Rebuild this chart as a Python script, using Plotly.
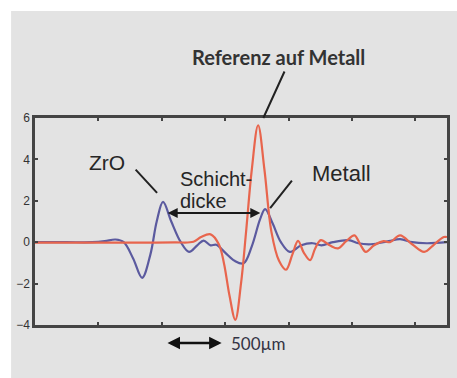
import plotly.graph_objects as go

# Sample positions (axis units, ticks every 1) and signal amplitudes
x_zro = [0.0, 0.5, 0.9, 1.1, 1.27, 1.4, 1.55, 1.69, 1.82, 1.92, 2.02, 2.15, 2.3, 2.43,
         2.56, 2.66, 2.77, 2.86, 3.0, 3.15, 3.29, 3.42, 3.55, 3.63, 3.75, 3.88,
         4.02, 4.2, 4.38, 4.52, 4.7, 4.95, 5.1, 5.3, 5.58, 5.76, 5.95, 6.18, 6.5]
y_zro = [0.0, 0.0, 0.0, 0.05, 0.13, 0.0, -0.8, -1.72, -0.6, 1.0, 1.95, 1.0, 0.0, -0.47,
         -0.15, 0.08, -0.15, -0.12, -0.5, -0.9, -1.02, -0.2, 1.1, 1.6, 0.9, 0.0,
         -0.47, -0.15, -0.05, -0.15, 0.0, 0.1, -0.05, -0.1, 0.05, 0.15, 0.0, -0.05, 0.0]

x_ref = [0.0, 0.8, 1.6, 2.2, 2.5, 2.62, 2.77, 2.9, 2.98, 3.07, 3.16, 3.25, 3.33, 3.42,
         3.52, 3.62, 3.73, 3.85, 3.96, 4.06, 4.15, 4.24, 4.34, 4.42, 4.51, 4.65, 4.78,
         4.91, 5.04, 5.13, 5.22, 5.35, 5.5, 5.6, 5.76, 5.95, 6.14, 6.3, 6.45, 6.5]
y_ref = [-0.02, -0.02, -0.02, -0.01, 0.02, 0.25, 0.38, -0.1, -1.0, -2.6, -3.75, -2.0,
         0.5, 3.5, 5.65, 3.5, 0.5, -0.9, -1.33, -0.6, 0.06, -0.5, -0.87, -0.3, 0.1,
         -0.15, -0.3, 0.05, 0.33, -0.1, -0.47, -0.15, 0.05, 0.0, 0.33, -0.1, -0.47,
         -0.1, 0.25, 0.25]

y_ticks = [-4, -2, 0, 2, 4, 6]
x_ticks = [1, 2, 3, 4, 5, 6]

# Layer thickness marker (between the two echoes) and 500 µm scale bar
thick_start, thick_end, thick_level = 2.07, 3.555, 1.41
scale_start, scale_end = 2.067, 2.944

fig = go.Figure()
fig.add_trace(go.Scatter(x=x_zro, y=y_zro, mode="lines",
                         line=dict(color="#5b5a9f", width=2.2, shape="spline", smoothing=1.0),
                         showlegend=False))
fig.add_trace(go.Scatter(x=x_ref, y=y_ref, mode="lines",
                         line=dict(color="#e8654d", width=2.2, shape="spline", smoothing=1.0),
                         showlegend=False))

axis_common = dict(showgrid=False, zeroline=False, showline=True, linewidth=2.5,
                   linecolor="#444444", mirror="ticks", ticks="inside", ticklen=3,
                   tickwidth=2, tickcolor="#444444")
fig.update_xaxes(range=[0, 6.5], tickvals=x_ticks, showticklabels=False, **axis_common)
fig.update_yaxes(range=[-4, 6], tickvals=y_ticks,
                 tickfont=dict(family="Liberation Sans, Arial", size=12, color="#333333"),
                 **axis_common)

ann_font = dict(family="Liberation Sans, Arial", size=20, color="#262626")
annotations = [
    dict(text="ZrO", x=1.143, y=3.87, xref="x", yref="y", showarrow=False,
         font=dict(ann_font, size=21), xanchor="center", yanchor="middle"),
    dict(text="", x=1.926, y=2.38, ax=1.566, ay=3.58, xref="x", yref="y",
         axref="x", ayref="y", showarrow=True, arrowhead=0, arrowwidth=2, arrowcolor="#222"),
    dict(text="Schicht-", x=2.27, y=3.07, xref="x", yref="y", showarrow=False,
         font=ann_font, xanchor="left", yanchor="middle", borderpad=0),
    dict(text="dicke", x=2.27, y=2.0, xref="x", yref="y", showarrow=False,
         font=ann_font, xanchor="left", yanchor="middle", borderpad=0),
    dict(text="", x=thick_end, y=thick_level, ax=thick_start, ay=thick_level,
         xref="x", yref="y", axref="x", ayref="y", showarrow=True, arrowhead=2,
         arrowside="end+start", arrowsize=1, arrowwidth=2, arrowcolor="#1a1a1a"),
    dict(text="Metall", x=4.84, y=3.34, xref="x", yref="y", showarrow=False,
         font=dict(ann_font, size=22), xanchor="center", yanchor="middle"),
    dict(text="", x=3.71, y=1.65, ax=4.072, ay=3.05, xref="x", yref="y",
         axref="x", ayref="y", showarrow=True, arrowhead=0, arrowwidth=2, arrowcolor="#222"),
    dict(text="Referenz auf Metall", x=3.84, y=1.295, xref="x", yref="y domain",
         showarrow=False, xanchor="center", yanchor="middle",
         font=dict(family="Lato, Open Sans", size=20, color="#333333", weight="bold")),
    dict(text="", x=3.602, y=1.0, ax=3.947, ay=1.232, xref="x", yref="y domain",
         axref="x", ayref="y domain", showarrow=True, arrowhead=0, arrowwidth=2,
         arrowcolor="#222"),
    dict(text="", x=scale_end, y=-0.087, ax=scale_start, ay=-0.087, xref="x",
         yref="y domain", axref="x", ayref="y domain", showarrow=True, arrowhead=2,
         arrowside="end+start", arrowsize=1, arrowwidth=2.5, arrowcolor="#111"),
    dict(text="500µm", x=3.52, y=-0.087, xref="x", yref="y domain", showarrow=False,
         xanchor="center", yanchor="middle",
         font=dict(family="Lato, Open Sans", size=17, color="#333344")),
]

fig.update_layout(
    width=457, height=378,
    margin=dict(l=35, r=7, t=118, b=53),
    paper_bgcolor="white", plot_bgcolor="#e4e4e4",
    annotations=annotations,
    shapes=[dict(type="rect", xref="paper", yref="paper", x0=-0.058, x1=1.05,
                 y0=-0.3, y1=1.517, fillcolor="#e3e3e3", line=dict(width=0),
                 layer="below")],
)

fig.write_html("out.html")
